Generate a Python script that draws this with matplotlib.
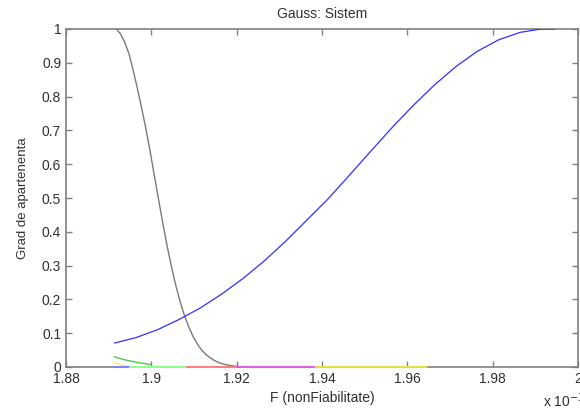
import matplotlib
matplotlib.use('Agg')
from matplotlib import pyplot as plt
from matplotlib.ticker import FormatStrFormatter

# x values are in units of 1e-3 (as on the axis)
blue_x = [1.8914, 1.8964, 1.9014, 1.9064, 1.9114, 1.9164, 1.9214, 1.9264, 1.9314,
          1.9364, 1.9414, 1.9464, 1.9514, 1.9564, 1.9614, 1.9664, 1.9714, 1.9764,
          1.9814, 1.9864, 1.9914, 1.9944]
blue_y = [0.071, 0.087, 0.110, 0.140, 0.174, 0.215, 0.261, 0.313, 0.371,
          0.434, 0.497, 0.567, 0.638, 0.708, 0.774, 0.835, 0.889, 0.934,
          0.968, 0.990, 1.0, 1.0]

gray_x = [1.8918, 1.8928, 1.8938, 1.8948, 1.8958, 1.8968, 1.8978, 1.8988, 1.8998,
          1.9008, 1.9018, 1.9028, 1.9038, 1.9048, 1.9058, 1.9068, 1.9078, 1.9088,
          1.9098, 1.9108, 1.9118, 1.9128, 1.9138, 1.9148, 1.9158, 1.9168, 1.9178,
          1.9188, 1.9198, 1.9210, 1.9644]
gray_y = [1.0, 0.985, 0.96, 0.925, 0.875, 0.82, 0.762, 0.70, 0.632,
          0.560, 0.488, 0.418, 0.352, 0.292, 0.238, 0.191, 0.151, 0.118,
          0.090, 0.068, 0.050, 0.037, 0.027, 0.019, 0.013, 0.009, 0.006,
          0.004, 0.002, 0.001, 0.0]

green_x = [1.8914, 1.8925, 1.8935, 1.8946, 1.8957, 1.8968, 1.8980, 1.8995, 1.9000]
green_y = [0.030, 0.026, 0.022, 0.019, 0.016, 0.013, 0.011, 0.008, 0.007]

yellow_x = [1.8914, 1.8922, 1.8930, 1.8940, 1.8949]
yellow_y = [0.013, 0.009, 0.006, 0.003, 0.0]

# near-zero tails of the other membership functions
tails = [
    ([1.8914, 1.8949], [0.0, 0.0], '#8080ff'),
    ([1.8949, 1.9084], [0.0, 0.0], '#90ff90'),
    ([1.9084, 1.9200], [0.0, 0.0], '#ff8080'),
    ([1.9200, 1.9386], [0.0, 0.0], '#e060e0'),
    ([1.9386, 1.9644], [0.0, 0.0], '#e0e040'),
]

xticks = [1.88, 1.9, 1.92, 1.94, 1.96, 1.98, 2.0]
yticks = [0, 0.1, 0.2, 0.3, 0.4, 0.5, 0.6, 0.7, 0.8, 0.9, 1.0]

plt.rcParams['font.family'] = ['Liberation Sans', 'DejaVu Sans']
txt = '#303030'
axc = '#808080'

fig = plt.figure(figsize=(5.8, 4.08), dpi=100)
ax = fig.add_axes([66 / 580, 41 / 408, 512 / 580, 338 / 408])

for tx, ty, c in tails:
    ax.plot(tx, ty, color=c, lw=1.5, zorder=4, clip_on=False)
ax.plot(yellow_x, yellow_y, color='#f0f060', lw=1, zorder=3)
ax.plot(green_x, green_y, color='#50c050', lw=1, zorder=3)
ax.plot(gray_x, gray_y, color='#7a7a7a', lw=1, zorder=3)
ax.plot(blue_x, blue_y, color='#3030ff', lw=0.9, zorder=3)

ax.set_xlim(1.88, 2.0)
ax.set_ylim(0, 1)
ax.set_xticks(xticks)
ax.set_yticks(yticks)
ax.xaxis.set_major_formatter(FormatStrFormatter('%g'))
ax.yaxis.set_major_formatter(FormatStrFormatter('%g'))
ax.tick_params(direction='in', top=True, right=True, length=4, width=1,
               color=axc, labelcolor=txt, labelsize=10)
for s in ax.spines.values():
    s.set_color(axc)
    s.set_linewidth(1.2)

ax.set_title('Gauss: Sistem', fontsize=10, color=txt, pad=8)
ax.set_xlabel('F (nonFiabilitate)', fontsize=10, color=txt, labelpad=4)
ax.set_ylabel('Grad de apartenenta', fontsize=9.5, color=txt, labelpad=9)
fig.text(543 / 580, 1 - 401 / 408, 'x 10$^{-3}$', fontsize=10, color=txt,
         va='center', ha='left')

fig.savefig('out.png', dpi=100)
